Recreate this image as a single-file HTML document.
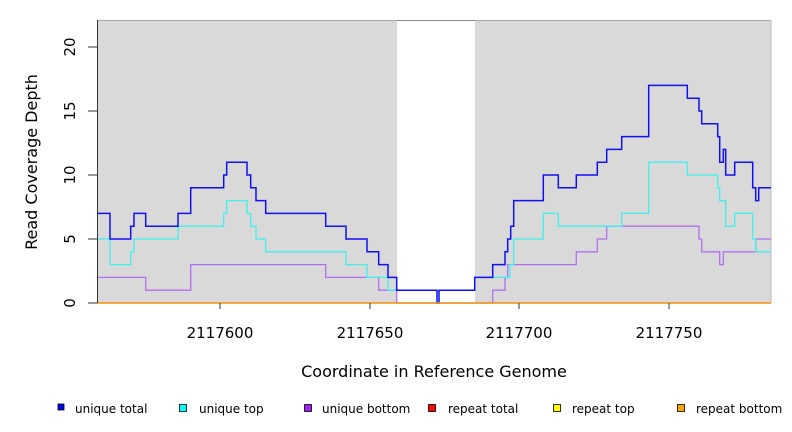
<!DOCTYPE html>
<html><head><meta charset="utf-8"><style>body{margin:0;background:#fff}svg{display:block}text{font-family:"DejaVu Sans","Liberation Sans",sans-serif}</style></head><body>
<svg width="792" height="432" viewBox="0 0 792 432" xmlns="http://www.w3.org/2000/svg">
<rect width="792" height="432" fill="#fff"/>
<rect x="97" y="20" width="300" height="283" fill="#d9d9d9"/>
<rect x="475" y="20" width="296" height="283" fill="#d9d9d9"/>
<line x1="97" y1="20.5" x2="771" y2="20.5" stroke="#aaa" stroke-width="1"/>
<line x1="397" y1="20.5" x2="475" y2="20.5" stroke="#888" stroke-width="1"/>
<line x1="771" y1="20" x2="771" y2="303" stroke="#bbb" stroke-width="1"/>
<g fill="none" stroke-width="1.3">
<polyline stroke="#b070f0" points="97,277.4 145.7,277.4 145.7,290.2 190.7,290.2 190.7,264.6 325.7,264.6 325.7,277.4 378.7,277.4 378.7,290.2 396.7,290.2 396.7,303 492.7,303 492.7,290.2 505,290.2 505,277.4 507.7,277.4 507.7,264.6 576.3,264.6 576.3,251.8 597.3,251.8 597.3,239 606.7,239 606.7,226.2 699,226.2 699,239 701.7,239 701.7,251.8 719.7,251.8 719.7,264.6 723.3,264.6 723.3,251.8 755.7,251.8 755.7,239 771,239"/>
<polyline stroke="#40f0f0" points="97,239 110,239 110,264.6 130.7,264.6 130.7,251.8 134,251.8 134,239 178,239 178,226.2 223.7,226.2 223.7,213.4 226.7,213.4 226.7,200.6 247,200.6 247,213.4 250.7,213.4 250.7,226.2 256,226.2 256,239 265.7,239 265.7,251.8 346,251.8 346,264.6 367,264.6 367,277.4 388,277.4 388,290.2 437,290.2 437,303 439,303 439,290.2 474.7,290.2 474.7,277.4 510,277.4 510,264.6 513.7,264.6 513.7,239 543.3,239 543.3,213.4 558.3,213.4 558.3,226.2 621.7,226.2 621.7,213.4 648.7,213.4 648.7,162.2 687.3,162.2 687.3,175 717.7,175 717.7,187.8 719.7,187.8 719.7,200.6 725.7,200.6 725.7,226.2 734.7,226.2 734.7,213.4 752.7,213.4 752.7,239 755.7,239 755.7,251.8 771,251.8"/>
<polyline stroke="#1010f0" stroke-width="1.5" points="97,213.4 110,213.4 110,239 130.7,239 130.7,226.2 134,226.2 134,213.4 145.7,213.4 145.7,226.2 178,226.2 178,213.4 190.7,213.4 190.7,187.8 223.7,187.8 223.7,175 226.7,175 226.7,162.2 247,162.2 247,175 250.7,175 250.7,187.8 256,187.8 256,200.6 265.7,200.6 265.7,213.4 325.7,213.4 325.7,226.2 346,226.2 346,239 367,239 367,251.8 378.7,251.8 378.7,264.6 388,264.6 388,277.4 396.7,277.4 396.7,290.2 437,290.2 437,303 439,303 439,290.2 474.7,290.2 474.7,277.4 492.7,277.4 492.7,264.6 505,264.6 505,251.8 507.7,251.8 507.7,239 510.7,239 510.7,226.2 513.7,226.2 513.7,200.6 543.3,200.6 543.3,175 558.3,175 558.3,187.8 576.3,187.8 576.3,175 597.3,175 597.3,162.2 606.7,162.2 606.7,149.4 621.7,149.4 621.7,136.6 648.7,136.6 648.7,85.4 687.3,85.4 687.3,98.2 699,98.2 699,111 701.7,111 701.7,123.8 717.7,123.8 717.7,136.6 719.7,136.6 719.7,162.2 723.3,162.2 723.3,149.4 725.7,149.4 725.7,175 734.7,175 734.7,162.2 752.7,162.2 752.7,187.8 755.7,187.8 755.7,200.6 758.7,200.6 758.7,187.8 771,187.8"/>
</g>
<line x1="97" y1="303" x2="771" y2="303" stroke="#f09010" stroke-width="1.5"/>
<line x1="97.5" y1="20" x2="97.5" y2="303" stroke="#333" stroke-width="1"/>
<g stroke="#333" stroke-width="1">
<line x1="88" y1="303" x2="97" y2="303"/><line x1="88" y1="239" x2="97" y2="239"/><line x1="88" y1="175" x2="97" y2="175"/><line x1="88" y1="111" x2="97" y2="111"/><line x1="88" y1="47" x2="97" y2="47"/>
<line x1="220" y1="303" x2="220" y2="309"/><line x1="370" y1="303" x2="370" y2="309"/><line x1="519" y1="303" x2="519" y2="309"/><line x1="669" y1="303" x2="669" y2="309"/>
</g>
<g font-size="15" fill="#000" text-anchor="middle">
<text transform="translate(75,303) rotate(-90)">0</text>
<text transform="translate(75,239) rotate(-90)">5</text>
<text transform="translate(75,175) rotate(-90)">10</text>
<text transform="translate(75,111) rotate(-90)">15</text>
<text transform="translate(75,47) rotate(-90)">20</text>
<text x="220" y="338">2117600</text>
<text x="370" y="338">2117650</text>
<text x="519" y="338">2117700</text>
<text x="669" y="338">2117750</text>
</g>
<g font-size="16" fill="#000" text-anchor="middle">
<text x="434" y="377">Coordinate in Reference Genome</text>
<text transform="translate(37,162) rotate(-90)">Read Coverage Depth</text>
</g>
<g fill="#000" stroke="#000" stroke-width="0.8">
<rect x="58" y="404" width="6" height="6" fill="#0000ee"/>
<rect x="179.5" y="404.5" width="7" height="7" fill="#00ffff"/>
<rect x="304.5" y="404.5" width="7" height="7" fill="#a020f0"/>
<rect x="428.5" y="404.5" width="7" height="7" fill="#ff0000"/>
<rect x="553.5" y="404.5" width="7" height="7" fill="#ffff00"/>
<rect x="677.5" y="404.5" width="7" height="7" fill="#ffa500"/>
</g>
<g font-size="12" fill="#000">
<text x="75" y="413">unique total</text>
<text x="199" y="413">unique top</text>
<text x="322" y="413">unique bottom</text>
<text x="448" y="413">repeat total</text>
<text x="572" y="413">repeat top</text>
<text x="696" y="413">repeat bottom</text>
</g>
</svg>
</body></html>
